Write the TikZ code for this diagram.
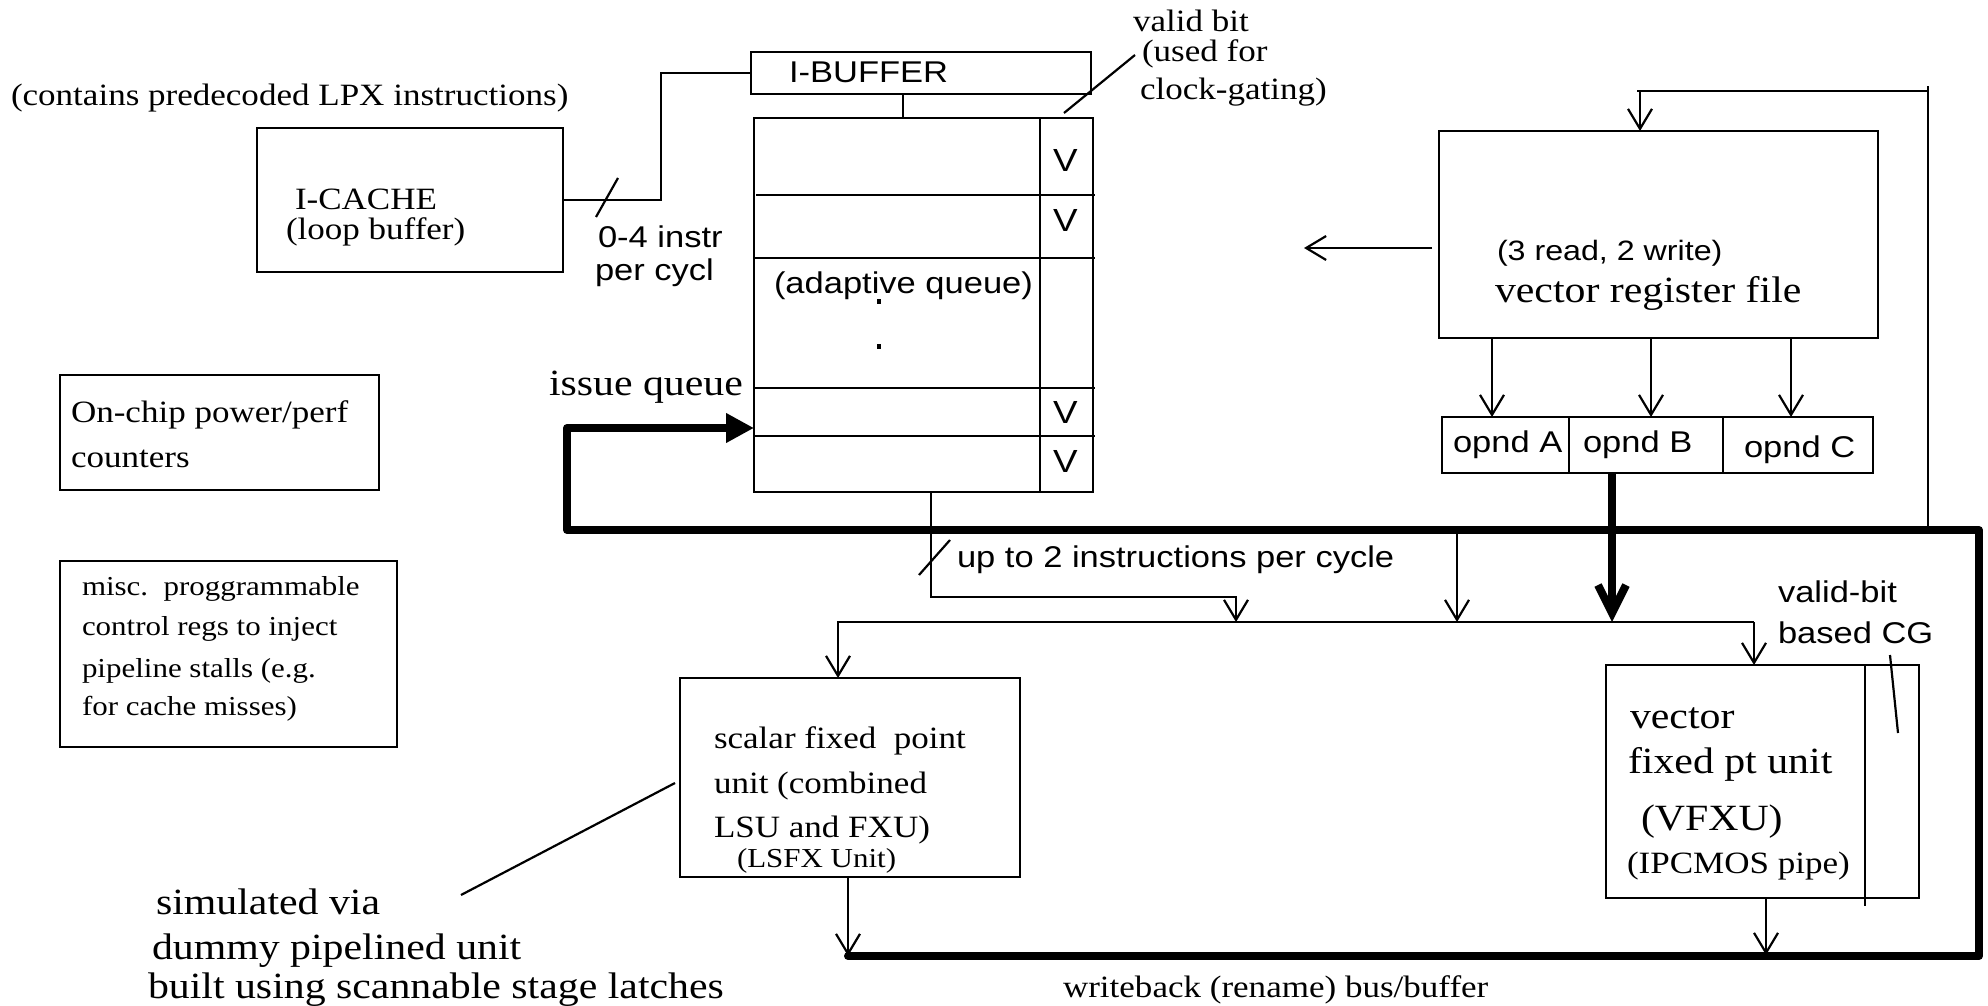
\documentclass[tikz,border=0pt]{standalone}
\usepackage{fontspec}
\setmainfont{Liberation Serif}[FakeStretch=1.13]
\newfontfamily\arialf{Liberation Sans}[FakeStretch=1.15]
\usetikzlibrary{arrows.meta}
\begin{document}
\begin{tikzpicture}[x=0.5pt,y=-0.5pt,
  box/.style={draw, line width=1.1pt, inner sep=0, outer sep=0, anchor=north west},
  tm/.style={inner sep=0, outer sep=0, anchor=base west, font=\fontsize{15.5}{18}\selectfont},
  tml/.style={inner sep=0, outer sep=0, anchor=base west, font=\fontsize{18.5}{22}\selectfont},
  tms/.style={inner sep=0, outer sep=0, anchor=base west, font=\fontsize{13.7}{16}\selectfont},
  ar/.style={inner sep=0, outer sep=0, anchor=base west, font=\arialf\fontsize{15}{18}\selectfont},
  conn/.style={line width=1.1pt},
  arr/.style={line width=1.1pt, -{Straight Barb[length=10pt,width=12pt]}},
  bus/.style={line width=4pt, line join=round},
]
\fill[white] (0,0) rectangle (1988,1006);
\useasboundingbox (0,0) rectangle (1988,1006);

% ---------- boxes ----------
\node[box, minimum width=153pt, minimum height=72pt] (icache) at (257,128) {};
\node[box, minimum width=170pt, minimum height=21pt] (ibuf) at (751,52) {};
\node[box, minimum width=169.5pt, minimum height=187pt] (queue) at (754,118) {};
\node[box, minimum width=219.5pt, minimum height=103.5pt] (vrf) at (1439,131) {};
\node[box, minimum width=63.5pt, minimum height=28pt] (opA) at (1442,417) {};
\node[box, minimum width=77pt, minimum height=28pt] (opB) at (1569,417) {};
\node[box, minimum width=75pt, minimum height=28pt] (opC) at (1723,417) {};
\node[box, minimum width=159.5pt, minimum height=57.5pt] (onchip) at (60,375) {};
\node[box, minimum width=168.5pt, minimum height=93pt] (misc) at (60,561) {};
\node[box, minimum width=170pt, minimum height=99.5pt] (scalar) at (680,678) {};
\node[box, minimum width=156.5pt, minimum height=116.5pt] (vfxu) at (1606,665) {};

% queue internals
\draw[conn] (1040,118) -- (1040,492);
\draw[conn] (756,195) -- (1095,195);
\draw[conn] (754,258) -- (1095,258);
\draw[conn] (754,388) -- (1095,388);
\draw[conn] (754,436) -- (1095,436);
\fill (877,299) rectangle (881,304);
\fill (877,344) rectangle (881,349);
% vfxu inner line
\draw[conn] (1865,665) -- (1865,906);

% ---------- texts ----------
\node[tm] (tcont) at (11,106) {(contains predecoded LPX instructions)};
\node[tm] (ticache) at (295,209) {I-CACHE};
\node[tm] (tloop) at (286,240) {(loop buffer)};
\node[ar] (tinstr) at (598,248) {0-4 instr};
\node[ar] (tcycl) at (595,280) {per cycl};
\node[ar] (tibuf) at (789,83) {I-BUFFER};
\node[tm] (tvalid) at (1133,32) {valid bit};
\node[tm] (tused) at (1142,62) {(used for};
\node[tm] (tclock) at (1140,100) {clock-gating)};
\node[ar, font=\arialf\fontsize{16}{18}\selectfont] (v1) at (1053,172) {V};
\node[ar, font=\arialf\fontsize{16}{18}\selectfont] (v2) at (1053,232) {V};
\node[ar, font=\arialf\fontsize{16}{18}\selectfont] (v3) at (1053,423) {V};
\node[ar, font=\arialf\fontsize{16}{18}\selectfont] (v4) at (1053,472) {V};
\node[ar] (tadapt) at (774,293) {(adaptive queue)};
\node[ar, font=\arialf\fontsize{14}{17}\selectfont] (tread) at (1497,260) {(3 read, 2 write)};
\node[tml] (tvrf) at (1495,302) {vector register file};
\node[ar] (topA) at (1453,452) {opnd A};
\node[ar] (topB) at (1583,452) {opnd B};
\node[ar] (topC) at (1744,457) {opnd C};
\node[tml] (tissue) at (549,395) {issue queue};
\node[tm] (ton1) at (71,422) {On-chip power/perf};
\node[tm] (ton2) at (71,467) {counters};
\node[tms] (tm1) at (82,595) {misc.\ \ proggrammable};
\node[tms] (tm2) at (82,635) {control regs to inject};
\node[tms] (tm3) at (82,677) {pipeline stalls (e.g.};
\node[tms] (tm4) at (82,715) {for cache misses)};
\node[ar] (tupto) at (957,567) {up to 2 instructions per cycle};
\node[ar] (tvb) at (1778,602) {valid-bit};
\node[ar] (tcg) at (1778,643) {based CG};
\node[tm] (ts1) at (714,748) {scalar fixed\ \ point};
\node[tm] (ts2) at (714,793) {unit (combined};
\node[tm] (ts3) at (714,837) {LSU and FXU)};
\node[tms] (ts4) at (737,867) {(LSFX Unit)};
\node[tml] (tv1) at (1630,728) {vector};
\node[tml] (tv2) at (1628,773) {fixed pt unit};
\node[tml] (tv3) at (1641,830) {(VFXU)};
\node[tm] (tv4) at (1627,873) {(IPCMOS pipe)};
\node[tml] (tsim1) at (156,914) {simulated via};
\node[tml] (tsim2) at (152,959) {dummy pipelined unit};
\node[tml] (tsim3) at (148,998) {built using scannable stage latches};
\node[tm] (twb) at (1063,997) {writeback (rename) bus/buffer};

% ---------- coordinates ----------
\coordinate (jog) at (661,73);
\coordinate (sl1a) at (596,217);
\coordinate (sl1b) at (618,178);
\coordinate (qout) at (931,492);
\coordinate (qmid) at (931,597);
\coordinate (qr) at (1236,597);
\coordinate (qtip) at (1236,622);
\coordinate (sl2a) at (919,575);
\coordinate (sl2b) at (950,540);
\coordinate (dL) at (838,622);
\coordinate (dR) at (1754,622);
\coordinate (busS) at (848,956);
\coordinate (busBR) at (1979,956);
\coordinate (busTR) at (1979,530);
\coordinate (busTL) at (567,530);
\coordinate (busL) at (567,428);
\coordinate (fbB) at (1928,530);
\coordinate (fbT) at (1928,86);
\coordinate (fbH) at (1928,91);
\coordinate (fbL) at (1637,91);
\coordinate (fbA) at (1640,91);
\coordinate (lArr) at (1432,248);
\coordinate (lTip) at (1304,248);
\coordinate (midB) at (1457,530);
\coordinate (midT) at (1457,622);
\coordinate (opBout) at (1612,473);
\coordinate (opBtip) at (1612,622);
\coordinate (sOut) at (848,877);
\coordinate (vOut) at (1766,898);
\coordinate (vIn) at (1766,955);
\coordinate (ldA) at (1135,55);
\coordinate (ldB) at (1064,113);
\coordinate (cgA) at (1890,655);
\coordinate (cgB) at (1898,733);
\coordinate (smA) at (461,895);
\coordinate (smB) at (675,783);

% ---------- connectors ----------
\draw[conn] (icache.east) -| (jog) -- (ibuf.west);
\draw[conn] (sl1a) -- (sl1b);
\draw[conn] (ibuf.south -| 903,0) -- (queue.north -| 903,0);
\draw[conn] (ldA) -- (ldB);
\draw[arr] (lArr) -- (lTip);

\draw[conn] (fbB) -- (fbT);
\draw[conn] (fbH) -- (fbL);
\draw[arr] (fbA) -- (fbA |- vrf.north);
\draw[arr] (vrf.south -| 1492,0) -- (opA.north -| 1492,0);
\draw[arr] (vrf.south -| 1651,0) -- (opB.north -| 1651,0);
\draw[arr] (vrf.south -| 1791,0) -- (opC.north -| 1791,0);

\draw[arr] (queue.south -| qout) -- (qmid) -- (qr) -- (qtip);
\draw[conn] (sl2a) -- (sl2b);
\draw[arr] (dR) -- (dL) -- (dL |- scalar.north);
\draw[arr] (dR) -- (dR |- vfxu.north);
\draw[arr] (midB) -- (midT);
\draw[line width=4pt, -{Straight Barb[length=14pt,width=14pt]}] (opBout) -- (opBtip);

\draw[bus, line cap=round, -{Triangle[length=14pt,width=14pt]}] (busS) -- (busBR) -- (busTR) -- (busTL) -- (busL) -- (queue.west |- busL);

\draw[arr] (scalar.south -| sOut) -- (sOut |- busS);
\draw[arr] (vfxu.south -| vOut) -- (vIn);
\draw[conn] (cgA) -- (cgB);
\draw[conn] (smA) -- (smB);
\end{tikzpicture}
\end{document}
